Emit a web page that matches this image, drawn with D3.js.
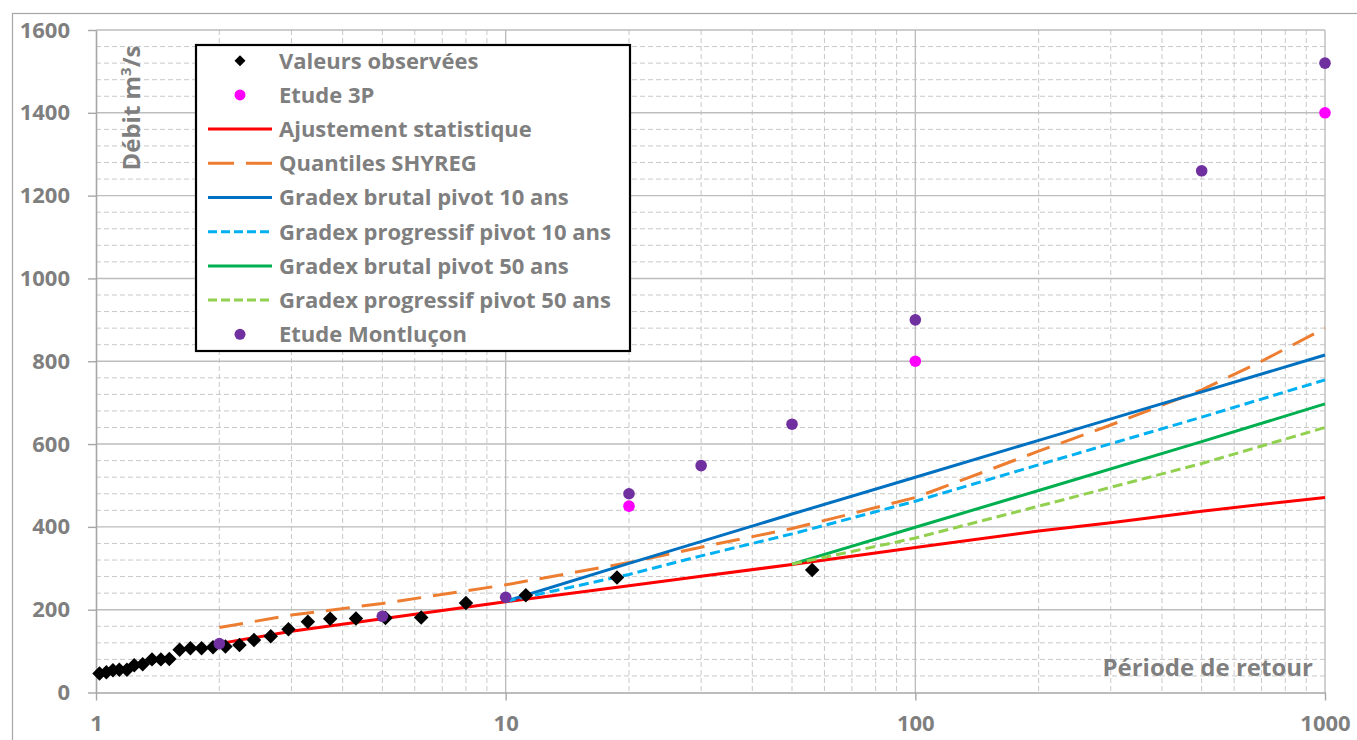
<!DOCTYPE html>
<html>
<head>
<meta charset="utf-8">
<script src="https://cdn.jsdelivr.net/npm/d3@7"></script>
<style>
  html, body { margin: 0; padding: 0; background: #ffffff; }
  svg { display: block; }
  text { font-family: "Open Sans", "Liberation Sans", sans-serif; font-weight: 700; fill: #7f7f7f; }
</style>
</head>
<body>
<svg id="chart" width="1357" height="740"></svg>
<script>
// Return periods (years) and discharges (m3/s)
const observedT = [1.02, 1.06, 1.10, 1.14, 1.19, 1.24, 1.30, 1.37, 1.44, 1.51, 1.60, 1.70, 1.81, 1.93,
                   2.07, 2.24, 2.43, 2.67, 2.95, 3.29, 3.73, 4.31, 5.09, 6.22, 8.0, 11.2, 18.7, 56.0];
const observedQ = [46, 49, 54, 55, 55, 66, 68, 80, 80, 81, 103, 107, 107, 109,
                   111, 115, 127, 136, 153, 171, 178, 179, 180, 181, 216, 235, 278, 296];

const etude3pT = [20, 100, 1000];
const etude3pQ = [450, 800, 1400];

const montluconT = [2, 5, 10, 20, 30, 50, 100, 500, 1000];
const montluconQ = [118, 184, 230, 480, 548, 648, 900, 1260, 1520];

const ajustT = [2, 3, 5, 10, 20, 30, 50, 100, 200, 300, 500, 1000];
const ajustQ = [118, 148, 178, 219, 258, 281, 309, 350, 390, 410, 438, 471];

const shyregT = [2, 3, 5, 10, 20, 30, 50, 70, 100, 150, 200, 300, 500, 700, 1000];
const shyregQ = [157, 187, 215, 260, 314, 351, 396, 432, 471, 536, 583, 646, 731, 800, 880];

const brutal10T = [10, 20, 50, 100, 200, 500, 1000];
const brutal10Q = [220, 312, 431, 520, 609, 726, 815];

const progr10T = [10, 20, 30, 50, 100, 200, 500, 1000];
const progr10Q = [220, 285, 330, 383, 462, 550, 665, 755];

const brutal50T = [50, 100, 200, 500, 1000];
const brutal50Q = [310, 399, 488, 606, 697];

const progr50T = [50, 100, 200, 500, 1000];
const progr50Q = [310, 373, 450, 553, 640];

const xTickValues = [1, 10, 100, 1000];
const yTickValues = [0, 200, 400, 600, 800, 1000, 1200, 1400, 1600];

const legendLabels = ["Valeurs observées", "Etude 3P", "Ajustement statistique", "Quantiles SHYREG",
  "Gradex brutal pivot 10 ans", "Gradex progressif pivot 10 ans", "Gradex brutal pivot 50 ans",
  "Gradex progressif pivot 50 ans", "Etude Montluçon"];

const zip = (T, Q) => T.map((t, i) => ({ t: t, q: Q[i] }));

const svg = d3.select("#chart");
const W = 1357, H = 740;
const plot = { left: 96, right: 1325, top: 30, bottom: 692.5 };

const x = d3.scaleLog().domain([1, 1000]).range([plot.left, plot.right]);
const y = d3.scaleLinear().domain([0, 1600]).range([plot.bottom, plot.top]);

// Outer chart frame
svg.append("rect")
  .attr("x", 12.5).attr("y", 13.5)
  .attr("width", W).attr("height", H)
  .attr("fill", "#ffffff").attr("stroke", "#a6a6a6").attr("stroke-width", 1.2);

// Minor gridlines
const minorX = [];
[1, 10, 100].forEach(d => { for (let k = 2; k <= 9; k++) minorX.push(d * k); });
const minorY = d3.range(0, 1600, 40).filter(v => v % 200 !== 0);

const grid = svg.append("g");
grid.selectAll("line.mx").data(minorX).join("line")
  .attr("x1", d => x(d)).attr("x2", d => x(d))
  .attr("y1", plot.top).attr("y2", plot.bottom)
  .attr("stroke", "#c8c8c8").attr("stroke-width", 1).attr("stroke-dasharray", "5,3");
grid.selectAll("line.my").data(minorY).join("line")
  .attr("x1", plot.left).attr("x2", plot.right)
  .attr("y1", d => y(d)).attr("y2", d => y(d))
  .attr("stroke", "#c8c8c8").attr("stroke-width", 1).attr("stroke-dasharray", "5,3");

// Major gridlines
grid.selectAll("line.Mx").data([10, 100, 1000]).join("line")
  .attr("x1", d => x(d)).attr("x2", d => x(d))
  .attr("y1", plot.top).attr("y2", plot.bottom)
  .attr("stroke", "#bdbdbd").attr("stroke-width", 1.4);
grid.selectAll("line.My").data(yTickValues.filter(v => v > 0)).join("line")
  .attr("x1", plot.left).attr("x2", plot.right)
  .attr("y1", d => y(d)).attr("y2", d => y(d))
  .attr("stroke", "#bdbdbd").attr("stroke-width", 1.4);

// Axes
const xAxis = d3.axisBottom(x).tickValues(xTickValues).tickFormat(d3.format("d"))
  .tickSizeInner(8).tickSizeOuter(0).tickPadding(15);
const yAxis = d3.axisLeft(y).tickValues(yTickValues).tickFormat(d3.format("d"))
  .tickSizeInner(8).tickSizeOuter(0).tickPadding(18);

const gx = svg.append("g").attr("transform", `translate(0,${plot.bottom})`).call(xAxis);
const gy = svg.append("g").attr("transform", `translate(${plot.left},0)`).call(yAxis);
[gx, gy].forEach(g => {
  g.select(".domain").attr("stroke", "#a6a6a6").attr("stroke-width", 1.6);
  g.selectAll(".tick line").attr("stroke", "#a6a6a6").attr("stroke-width", 1.4);
  g.selectAll(".tick text").style("font-family", "'Open Sans', sans-serif")
    .style("font-weight", 700).style("font-size", "22px").attr("fill", "#7f7f7f");
});

// Axis titles
svg.append("text")
  .attr("transform", `translate(140,108) rotate(-90)`)
  .attr("text-anchor", "middle")
  .style("font-size", "24px")
  .call(t => {
    t.append("tspan").text("Débit m");
    t.append("tspan").attr("dy", -9).style("font-size", "15px").text("3");
    t.append("tspan").attr("dy", 9).text("/s");
  });
svg.append("text")
  .attr("x", 1313).attr("y", 676)
  .attr("text-anchor", "end")
  .style("font-size", "24px")
  .text("Période de retour");

// Curves
const line = d3.line().x(d => x(d.t)).y(d => y(d.q));
const curves = [
  { data: zip(ajustT, ajustQ), color: "#ff0000", dash: null },
  { data: zip(shyregT, shyregQ), color: "#ed7d31", dash: "24,12" },
  { data: zip(brutal10T, brutal10Q), color: "#0070c0", dash: null },
  { data: zip(progr10T, progr10Q), color: "#00b0f0", dash: "10,5" },
  { data: zip(brutal50T, brutal50Q), color: "#00b050", dash: null },
  { data: zip(progr50T, progr50Q), color: "#92d050", dash: "10,5" }
];
svg.append("g").selectAll("path").data(curves).join("path")
  .attr("d", d => line(d.data))
  .attr("fill", "none")
  .attr("stroke", d => d.color)
  .attr("stroke-width", 3)
  .attr("stroke-dasharray", d => d.dash);

// Point series
svg.append("g").selectAll("path").data(zip(observedT, observedQ)).join("path")
  .attr("transform", d => `translate(${x(d.t)},${y(d.q)}) rotate(45)`)
  .attr("d", d3.symbol().type(d3.symbolSquare).size(105))
  .attr("fill", "#000000");

svg.append("g").selectAll("circle").data(zip(etude3pT, etude3pQ)).join("circle")
  .attr("cx", d => x(d.t)).attr("cy", d => y(d.q)).attr("r", 5.8)
  .attr("fill", "#ff00ff");

svg.append("g").selectAll("circle").data(zip(montluconT, montluconQ)).join("circle")
  .attr("cx", d => x(d.t)).attr("cy", d => y(d.q)).attr("r", 5.8)
  .attr("fill", "#7030a0");

// Legend
const legend = svg.append("g");
legend.append("rect")
  .attr("x", 196).attr("y", 45).attr("width", 434).attr("height", 306)
  .attr("fill", "#ffffff").attr("stroke", "#000000").attr("stroke-width", 2.2);

const legendKeys = [
  { kind: "diamond", color: "#000000" },
  { kind: "circle", color: "#ff00ff" },
  { kind: "line", color: "#ff0000", dash: null },
  { kind: "line", color: "#ed7d31", dash: "26,12" },
  { kind: "line", color: "#0070c0", dash: null },
  { kind: "line", color: "#00b0f0", dash: "9,4" },
  { kind: "line", color: "#00b050", dash: null },
  { kind: "line", color: "#92d050", dash: "9,4" },
  { kind: "circle", color: "#7030a0" }
];
const rowY = i => 60.7 + i * 34.2;
legendKeys.forEach((k, i) => {
  const cy = rowY(i);
  if (k.kind === "line") {
    legend.append("line").attr("x1", 208).attr("x2", 272).attr("y1", cy).attr("y2", cy)
      .attr("stroke", k.color).attr("stroke-width", 3).attr("stroke-dasharray", k.dash);
  } else if (k.kind === "circle") {
    legend.append("circle").attr("cx", 240).attr("cy", cy).attr("r", 5.5).attr("fill", k.color);
  } else {
    legend.append("path").attr("transform", `translate(240,${cy}) rotate(45)`)
      .attr("d", d3.symbol().type(d3.symbolSquare).size(60)).attr("fill", k.color);
  }
  legend.append("text").attr("x", 279).attr("y", cy).attr("dy", "0.36em")
    .style("font-size", "22px").text(legendLabels[i]);
});
</script>
</body>
</html>
